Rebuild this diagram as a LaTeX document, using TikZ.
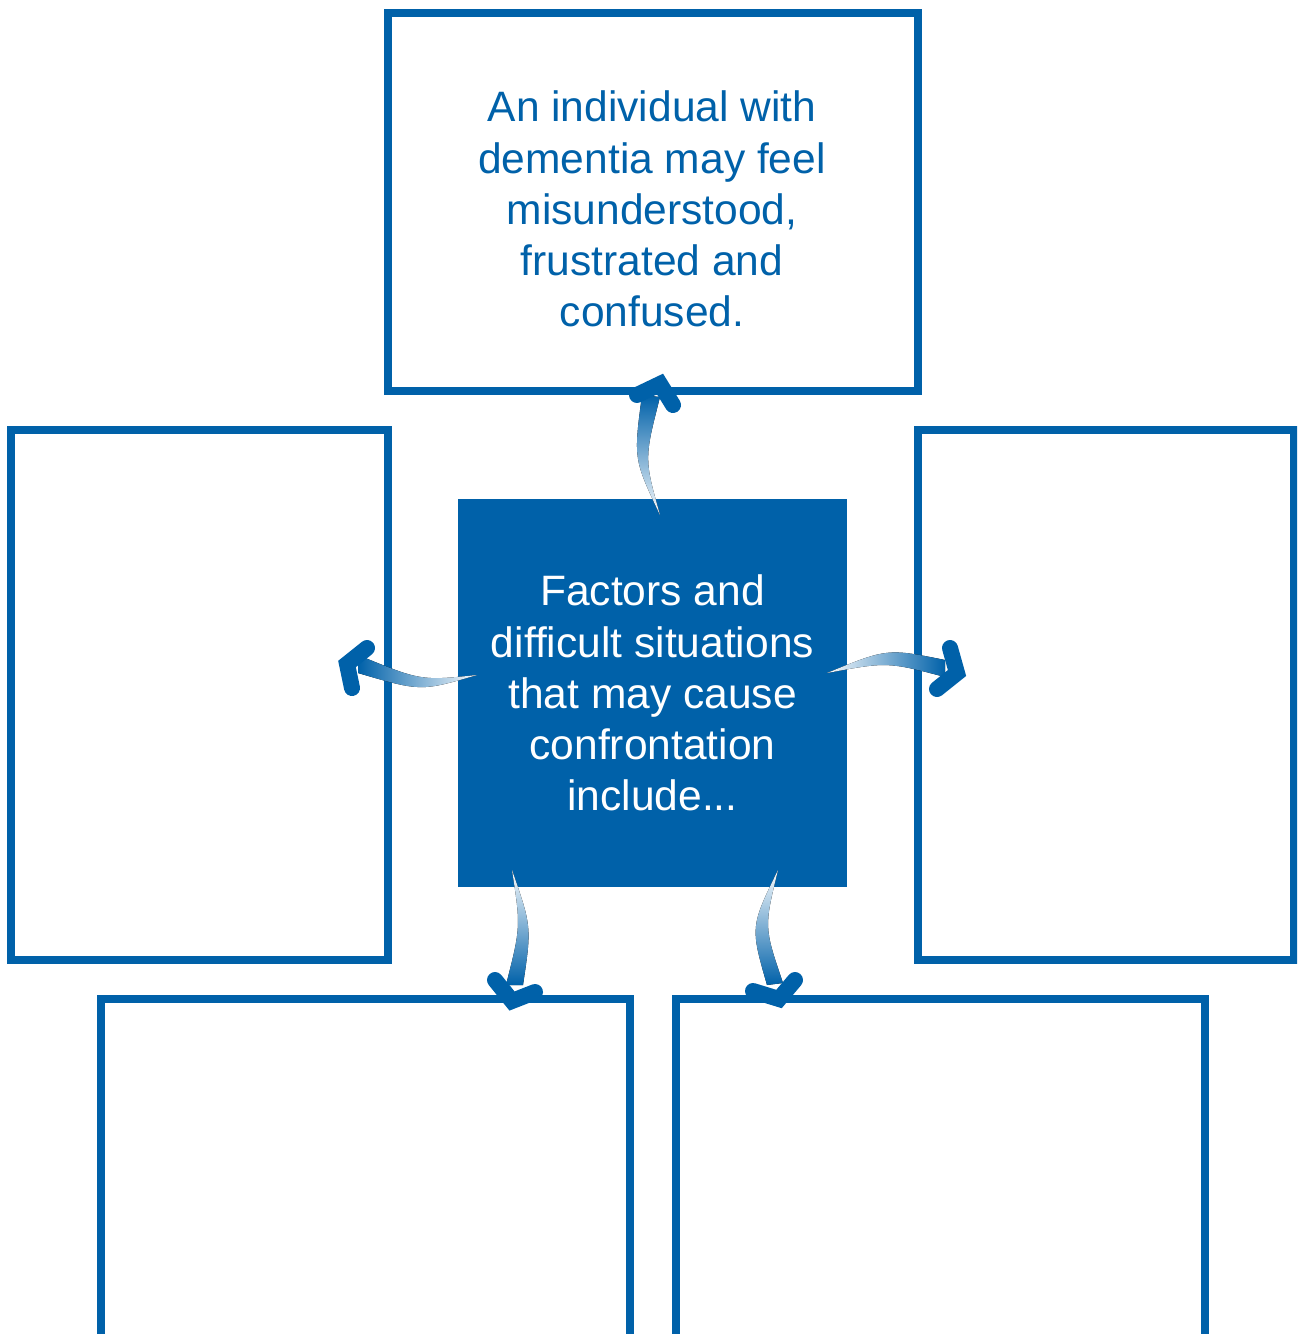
\documentclass[tikz,border=0pt]{standalone}
\usepackage{fontspec}
\setmainfont{Liberation Sans}
\definecolor{mainblue}{HTML}{0061A9}
\definecolor{midblue}{HTML}{6E8ECB}
\begin{document}
\begin{tikzpicture}[x=0.75pt,y=-0.75pt,
  framebox/.style={draw=mainblue,line width=6pt,rectangle,inner sep=0pt,outer sep=0pt},
  bodytext/.style={font=\fontsize{31.9pt}{38.4pt}\selectfont,align=center},
  chev/.style={draw=mainblue,line width=12pt,line cap=round,line join=miter},
  shaftv/.style={top color=mainblue,middle color=midblue,bottom color=mainblue!3},
  shaftvd/.style={bottom color=mainblue,middle color=midblue,top color=mainblue!3},
  shaftl/.style={left color=mainblue,middle color=midblue,right color=mainblue!3},
  shaftr/.style={right color=mainblue,middle color=midblue,left color=mainblue!3}]
\clip (0,0) rectangle (1297,1334);
% boxes
\node[framebox,minimum width=397.3pt,minimum height=283.3pt] (topbox) at (652.85,202.15) {};
\node[bodytext,text=mainblue] (toptext) at (652,209) {An individual with\\dementia may feel\\misunderstood,\\frustrated and\\confused.};
\node[framebox,minimum width=283pt,minimum height=397.3pt] (leftbox) at (199.35,695.15) {};
\node[framebox,minimum width=282pt,minimum height=397pt] (rightbox) at (1105.5,695) {};
\node[framebox,minimum width=396.5pt,minimum height=450pt] (blbox) at (365.65,1299) {};
\node[framebox,minimum width=396.75pt,minimum height=450pt] (brbox) at (940.5,1299) {};
\node[fill=mainblue,minimum width=291.75pt,minimum height=291pt,inner sep=0pt,bodytext,text=white] (centre) at (652.5,693) {Factors and\\difficult situations\\that may cause\\confrontation\\include...};
% arrow up
\fill[shaftv] (660,515) .. controls (633.5,459) .. (642,395) -- (660,397) .. controls (644.2,458.7) .. (660,515) -- cycle;
\draw[chev] (637,395) -- (660,384) coordinate (uptip) -- (673,405);
% arrow left
\fill[shaftl] (477,675) .. controls (420.8,680.8) .. (358,655) -- (358,673) .. controls (420.8,691.5) .. (477,675) -- cycle;
\draw[chev] (367,648) -- (347,664) coordinate (lefttip) -- (352,688);
% arrow right
\fill[shaftr] (827,673) .. controls (887.3,648.3) .. (945,660) -- (945,677) .. controls (887.3,661.8) .. (827,673) -- cycle;
\draw[chev] (950,648) -- (957,673) coordinate (righttip) -- (937,689);
% arrow bottom left
\fill[shaftvd] (512,870) .. controls (520.8,926.8) .. (506,985) -- (523,985) .. controls (531.7,926.8) .. (512,870) -- cycle;
\draw[chev] (495,980) -- (512,1001) coordinate (bltip) -- (535,992);
% arrow bottom right
\fill[shaftvd] (778,870) .. controls (750.3,926.8) .. (767,985) -- (783,983) .. controls (764,927.2) .. (778,870) -- cycle;
\draw[chev] (753,991) -- (779,999) coordinate (brtip) -- (795,980);
\end{tikzpicture}
\end{document}
